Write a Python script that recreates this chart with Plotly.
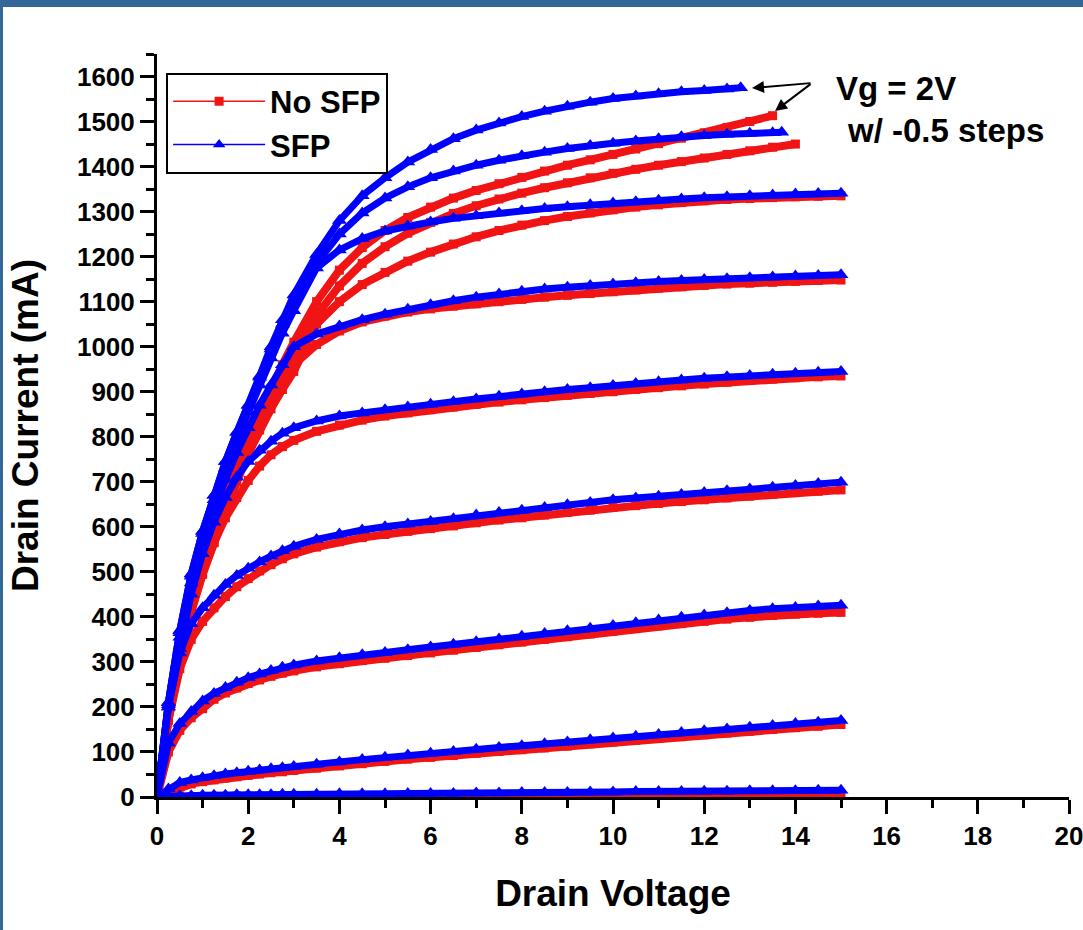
import plotly.graph_objects as go

# ---------------- data ----------------
V_BASE = [0, 0.25, 0.5, 0.75, 1, 1.25, 1.5, 1.75, 2, 2.25, 2.5, 2.75, 3,
          3.5, 4, 4.5, 5, 5.5, 6, 6.5, 7, 7.5, 8, 8.5, 9, 9.5, 10, 10.5,
          11, 11.5, 12, 12.5, 13, 13.5, 14, 14.5, 15]

VG_LABELS = ["2", "1.5", "1", "0.5", "0", "-0.5", "-1", "-1.5", "-2"]

SFP_END_V = [12.8, 13.7, 15, 15, 15, 15, 15, 15, 15]
NOSFP_END_V = [13.5, 14.0, 15, 15, 15, 15, 15, 15, 15]

SFP_VG2 = [0, 210, 370, 495, 590, 670, 745, 810, 870, 935, 1000, 1060, 1115,
           1205, 1280, 1335, 1375, 1410, 1438, 1462, 1481, 1497, 1511, 1523, 1534,
           1543, 1551, 1557, 1562, 1566, 1569, 1572, 1575]
SFP_VG15 = [0, 210, 370, 495, 590, 670, 745, 810, 870, 932, 995, 1050, 1100,
            1185, 1250, 1297, 1330, 1355, 1375, 1390, 1403, 1414, 1424, 1432, 1440,
            1447, 1452, 1457, 1462, 1466, 1469, 1472, 1474, 1475, 1476]
SFP_VG1 = [0, 210, 365, 490, 585, 660, 730, 795, 855, 915, 975, 1030, 1080,
           1175, 1215, 1240, 1257, 1268, 1277, 1285, 1291, 1297, 1302, 1307, 1311,
           1315, 1319, 1322, 1325, 1328, 1331, 1333, 1335, 1337, 1339, 1340, 1341]
SFP_VG05 = [0, 205, 355, 475, 565, 640, 705, 765, 820, 870, 915, 960, 1000,
            1028, 1046, 1060, 1072, 1083, 1093, 1102, 1110, 1117, 1123, 1128, 1132,
            1136, 1139, 1142, 1145, 1147, 1149, 1151, 1153, 1155, 1157, 1158, 1160]
SFP_VG0 = [0, 200, 330, 450, 540, 610, 665, 710, 745, 770, 790, 808, 820,
           835, 846, 853, 860, 866, 872, 878, 884, 890, 895, 900, 905,
           909, 914, 918, 922, 926, 930, 933, 936, 939, 941, 943, 945]
SFP_VGM05 = [0, 200, 320, 385, 420, 448, 472, 492, 508, 522, 535, 547, 557,
             572, 584, 593, 600, 606, 612, 618, 626, 632, 637, 643, 649,
             654, 660, 664, 668, 672, 676, 680, 684, 688, 692, 696, 699]
SFP_VGM1 = [0, 120, 163, 190, 213, 230, 243, 255, 265, 273, 281, 288, 293,
            302, 309, 316, 321, 327, 333, 339, 345, 351, 357, 363, 369,
            375, 381, 387, 393, 399, 404, 409, 414, 418, 421, 424, 426]
SFP_VGM15 = [0, 18, 32, 38, 43, 47, 51, 54, 57, 60, 63, 65, 68,
             73, 78, 83, 88, 93, 97, 101, 106, 110, 114, 118, 122,
             127, 131, 135, 139, 143, 147, 151, 155, 159, 163, 166, 170]
SFP_VGM2 = [0, 2, 3, 3, 4, 4, 4, 5, 5, 5, 5, 6, 6,
            6, 7, 7, 7, 8, 8, 8, 9, 9, 10, 10, 10,
            11, 11, 12, 12, 12, 13, 13, 14, 14, 14, 15, 15]

NOSFP_VG2 = [0, 180, 320, 430, 520, 600, 670, 735, 795, 850, 905, 960, 1010,
             1100, 1170, 1220, 1258, 1287, 1310, 1330, 1347, 1362, 1376, 1390, 1403,
             1415, 1427, 1439, 1451, 1463, 1475, 1487, 1500, 1513]
NOSFP_VG15 = [0, 180, 320, 430, 520, 600, 670, 732, 790, 842, 892, 940, 985,
              1070, 1135, 1185, 1222, 1252, 1276, 1296, 1313, 1328, 1341, 1353, 1364,
              1375, 1385, 1394, 1403, 1411, 1419, 1427, 1435, 1443, 1450]
NOSFP_VG1 = [0, 180, 320, 430, 515, 590, 655, 712, 765, 815, 862, 905, 945,
             1050, 1100, 1138, 1165, 1190, 1210, 1228, 1244, 1258, 1270, 1280, 1289,
             1297, 1304, 1310, 1315, 1320, 1324, 1327, 1329, 1331, 1333, 1334, 1335]
NOSFP_VG05 = [0, 175, 310, 415, 495, 565, 640, 700, 760, 822, 880, 925, 960,
              1005, 1035, 1055, 1068, 1077, 1084, 1090, 1095, 1100, 1105, 1110, 1114,
              1118, 1122, 1126, 1130, 1133, 1136, 1139, 1141, 1143, 1145, 1147, 1148]
NOSFP_VG0 = [0, 170, 300, 410, 495, 565, 620, 665, 703, 735, 760, 778, 792,
             812, 826, 837, 846, 853, 860, 866, 872, 877, 882, 887, 892,
             896, 900, 905, 909, 913, 917, 921, 925, 928, 931, 933, 935]
NOSFP_VGM05 = [0, 170, 285, 350, 390, 420, 445, 467, 485, 502, 516, 529, 540,
               555, 567, 576, 583, 590, 596, 602, 609, 615, 620, 626, 632,
               637, 643, 647, 652, 656, 660, 664, 668, 672, 676, 679, 682]
NOSFP_VGM1 = [0, 100, 148, 176, 196, 217, 231, 242, 252, 260, 268, 275, 280,
              289, 296, 303, 308, 314, 320, 326, 332, 338, 344, 350, 356,
              362, 368, 374, 380, 385, 390, 395, 399, 403, 406, 408, 410]
NOSFP_VGM15 = [0, 10, 22, 29, 34, 38, 42, 45, 48, 51, 54, 56, 59,
               64, 69, 74, 79, 84, 88, 92, 97, 101, 105, 109, 113,
               118, 122, 126, 130, 134, 138, 142, 146, 150, 154, 157, 161]
NOSFP_VGM2 = [0, 1, 1, 1, 1, 1, 1, 2, 2, 2, 2, 2, 2,
              2, 2, 2, 3, 3, 3, 3, 3, 3, 3, 3, 4,
              4, 4, 4, 4, 4, 4, 4, 5, 5, 5, 5, 5]

SFP_CURVES = [SFP_VG2, SFP_VG15, SFP_VG1, SFP_VG05, SFP_VG0,
              SFP_VGM05, SFP_VGM1, SFP_VGM15, SFP_VGM2]
NOSFP_CURVES = [NOSFP_VG2, NOSFP_VG15, NOSFP_VG1, NOSFP_VG05, NOSFP_VG0,
                NOSFP_VGM05, NOSFP_VGM1, NOSFP_VGM15, NOSFP_VGM2]

X_TICKS = list(range(0, 21, 2))
Y_TICKS = list(range(0, 1601, 100))


def v_axis(end):
    return [v for v in V_BASE if v < end] + [end]


# ---------------- figure ----------------
W, H = 1083, 930
ML, MR, MT, MB = 157, 14, 54, 133
PW, PH = W - ML - MR, H - MT - MB

RED = "#f01414"
BLUE = "#0000ff"
FONT = "Liberation Sans, Arial, sans-serif"

fig = go.Figure()

for vals, end, vg in zip(NOSFP_CURVES, NOSFP_END_V, VG_LABELS):
    fig.add_trace(go.Scatter(
        x=v_axis(end), y=vals, mode="lines+markers", name="No SFP Vg=" + vg,
        line=dict(color=RED, width=8),
        marker=dict(symbol="square", size=9, color=RED),
        showlegend=False))

for vals, end, vg in zip(SFP_CURVES, SFP_END_V, VG_LABELS):
    fig.add_trace(go.Scatter(
        x=v_axis(end), y=vals, mode="lines+markers", name="SFP Vg=" + vg,
        line=dict(color=BLUE, width=7),
        marker=dict(symbol="triangle-up", size=13, color=BLUE),
        showlegend=False))

# legend entries
fig.add_trace(go.Scatter(x=[None], y=[None], mode="lines+markers", name="No SFP",
                         line=dict(color=RED, width=1.5),
                         marker=dict(symbol="square", size=9, color=RED)))
fig.add_trace(go.Scatter(x=[None], y=[None], mode="lines+markers", name="SFP",
                         line=dict(color=BLUE, width=1.5),
                         marker=dict(symbol="triangle-up", size=11, color=BLUE)))

tickfont = dict(family=FONT, size=26, color="black", weight="bold")
titlefont = dict(family=FONT, size=37, color="black", weight="bold")

axis_common = dict(showline=True, linecolor="black", linewidth=3,
                   showgrid=False, zeroline=False, ticks="outside",
                   tickwidth=3, ticklen=14, tickcolor="black", automargin=False,
                   ticklabeloverflow="allow")

fig.update_layout(
    width=W, height=H,
    margin=dict(l=ML, r=MR, t=MT, b=MB, pad=0),
    paper_bgcolor="white", plot_bgcolor="white",
    xaxis=dict(range=[0, 20], tickvals=X_TICKS, tickfont=tickfont,
               title=dict(text="Drain Voltage", font=titlefont, standoff=30),
               minor=dict(dtick=1, ticks="outside", ticklen=8, tickwidth=3,
                          tickcolor="black", showgrid=False),
               **axis_common),
    yaxis=dict(range=[0, 1650], tickvals=Y_TICKS, tickfont=tickfont,
               title=dict(text="Drain Current (mA)", font=titlefont, standoff=28),
               minor=dict(dtick=50, ticks="outside", ticklen=8, tickwidth=3,
                          tickcolor="black", showgrid=False),
               **axis_common),
    xaxis2=dict(range=[0, 20], overlaying="x", side="top", anchor="y",
                tickvals=X_TICKS, showticklabels=False, showline=True,
                linecolor="black", linewidth=3, showgrid=False, zeroline=False,
                ticks="inside", tickwidth=3, ticklen=14, tickcolor="black",
                automargin=False,
                minor=dict(dtick=1, ticks="inside", ticklen=8, tickwidth=3,
                           tickcolor="black", showgrid=False)),
    yaxis2=dict(range=[0, 1650], overlaying="y", side="right", anchor="x",
                tickvals=Y_TICKS, showticklabels=False, showline=True,
                linecolor="black", linewidth=3, showgrid=False, zeroline=False,
                ticks="inside", tickwidth=3, ticklen=14, tickcolor="black",
                automargin=False,
                minor=dict(dtick=50, ticks="inside", ticklen=8, tickwidth=3,
                           tickcolor="black", showgrid=False)),
    legend=dict(x=0.01, y=0.975, xanchor="left", yanchor="top",
                bgcolor="white", bordercolor="black", borderwidth=2,
                font=dict(family=FONT, size=31, color="black", weight="bold"),
                itemwidth=92, tracegroupgap=0),
    showlegend=True,
)

# annotation text and arrows
ann_font = dict(family=FONT, size=33, color="black", weight="bold")
fig.add_annotation(x=(896 - ML) / PW, y=1 - (88 - MT) / PH, xref="paper", yref="paper",
                   xanchor="center", yanchor="middle",
                   text="Vg = 2V", showarrow=False, font=ann_font)
fig.add_annotation(x=(945 - ML) / PW, y=1 - (131 - MT) / PH, xref="paper", yref="paper",
                   xanchor="center", yanchor="middle",
                   text="w/ -0.5 steps", showarrow=False, font=ann_font)
for hx, hy in [(752, 88), (775, 111)]:
    fig.add_annotation(x=(hx - ML) / PW, y=1 - (hy - MT) / PH, xref="paper", yref="paper",
                       ax=812 - hx, ay=83 - hy, axref="pixel", ayref="pixel",
                       text="", showarrow=True, arrowhead=2, arrowsize=1.2,
                       arrowwidth=2, arrowcolor="black")

# blue frame around page (top bar and left edge)
fig.add_shape(type="rect", xref="paper", yref="paper", layer="above",
              x0=-ML / PW, x1=(W - ML) / PW, y0=1 + (MT - 7) / PH, y1=1 + MT / PH,
              fillcolor="#336699", line=dict(width=0))
fig.add_shape(type="rect", xref="paper", yref="paper", layer="above",
              x0=-ML / PW, x1=(3 - ML) / PW, y0=-MB / PH, y1=1 + MT / PH,
              fillcolor="#336699", line=dict(width=0))

fig.write_html("out.html")
